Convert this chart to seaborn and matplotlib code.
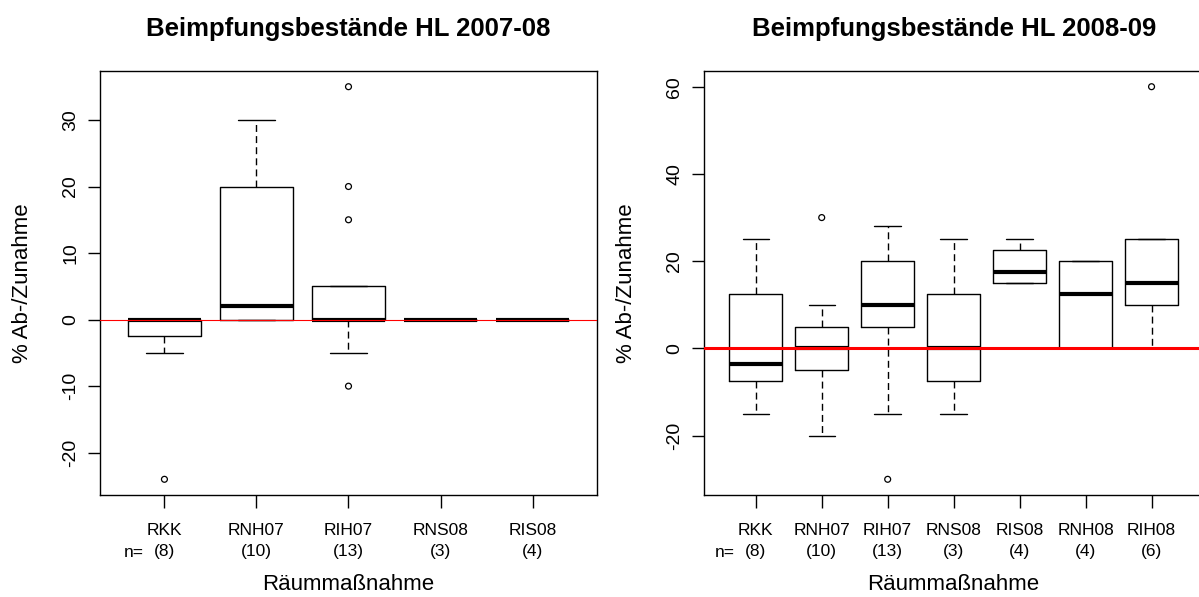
import numpy as np
import pandas as pd
import matplotlib
matplotlib.use("Agg")
import matplotlib.pyplot as plt
import matplotlib.transforms as mtransforms
import seaborn as sns

# ---- data: box statistics per removal measure (percent change) ----
names_0708 = ["RKK", "RNH07", "RIH07", "RNS08", "RIS08"]
n_0708 = [8, 10, 13, 3, 4]
whislo_0708 = [-5, 0, -5, 0, 0]
q1_0708 = [-2.5, 0, 0, 0, 0]
med_0708 = [0, 2, 0, 0, 0]
q3_0708 = [0, 20, 5, 0, 0]
whishi_0708 = [0, 30, 5, 0, 0]
outliers_0708 = [[-24], [], [35, 20, 15, -10], [], []]

names_0809 = ["RKK", "RNH07", "RIH07", "RNS08", "RIS08", "RNH08", "RIH08"]
n_0809 = [8, 10, 13, 3, 4, 4, 6]
whislo_0809 = [-15, -20, -15, -15, 15, 0, 0]
q1_0809 = [-7.5, -5, 5, -7.5, 15, 0, 10]
med_0809 = [-3.5, 0, 10, 0, 17.5, 12.5, 15]
q3_0809 = [12.5, 5, 20, 12.5, 22.5, 20, 25]
whishi_0809 = [25, 10, 28, 25, 25, 20, 25]
outliers_0809 = [[], [30], [-30], [], [], [], [60]]

yticks_0708 = [-20, -10, 0, 10, 20, 30]
yticks_0809 = [-20, 0, 20, 40, 60]

sns.set_theme(style="ticks")
plt.rcParams["font.family"] = ["Liberation Sans", "DejaVu Sans"]
plt.rcParams["axes.edgecolor"] = "black"
plt.rcParams["axes.linewidth"] = 1.0
plt.rcParams["xtick.color"] = "black"
plt.rcParams["ytick.color"] = "black"
plt.rcParams["text.color"] = "black"
plt.rcParams["axes.labelcolor"] = "black"

W, H = 1199, 597
fig = plt.figure(figsize=(W / 100, H / 100), dpi=100)
fig.patch.set_facecolor("white")
ax_a = fig.add_axes([100 / W, 1 - 495 / H, 497 / W, 424 / H])
ax_b = fig.add_axes([704.3 / W, 1 - 495 / H, 498.7 / W, 424 / H])


def draw_panel(ax, title, names, counts, lo, q1, med, q3, hi, outs, yticks, zero_lw):
    k = len(names)
    pos = np.arange(1, k + 1)
    stats = [
        dict(whislo=lo[i], q1=q1[i], med=med[i], q3=q3[i], whishi=hi[i], fliers=[])
        for i in range(k)
    ]
    ax.bxp(
        stats, positions=pos, widths=0.8, capwidths=0.4, showfliers=False,
        manage_ticks=False,
        boxprops=dict(color="black", lw=1.0),
        medianprops=dict(color="black", lw=3.0, solid_capstyle="butt"),
        whiskerprops=dict(color="black", lw=1.0, linestyle=(0, (5, 3))),
        capprops=dict(color="black", lw=1.0),
    )

    # outlying observations as open circles
    flier_df = pd.DataFrame(
        [(pos[i], v) for i in range(k) for v in outs[i]], columns=["pos", "value"]
    )
    sns.scatterplot(
        data=flier_df, x="pos", y="value", ax=ax, marker="o", s=18,
        facecolor="none", edgecolor="black", linewidth=0.9, zorder=4, legend=False,
    )

    ax.axhline(0, color="red", lw=zero_lw, zorder=5)

    # axis ranges: data range widened by 4 % on each side
    allvals = list(lo) + list(hi) + [v for o in outs for v in o]
    vmin, vmax = min(allvals), max(allvals)
    span = vmax - vmin
    ax.set_ylim(vmin - 0.04 * span, vmax + 0.04 * span)
    ax.set_xlim(0.5 - 0.04 * k, k + 0.5 + 0.04 * k)

    ax.set_yticks(yticks)
    ax.set_yticklabels([str(t) for t in yticks], fontsize=14)
    ax.set_xticks(pos)
    ax.set_xticklabels([f"{nm}\n({c})" for nm, c in zip(names, counts)],
                       fontsize=12.5, linespacing=1.5)
    ax.tick_params(axis="both", length=9, width=1, direction="out", color="black")
    ax.tick_params(axis="x", pad=11)
    ax.tick_params(axis="y", pad=6, labelrotation=90)
    for lbl in ax.get_yticklabels():
        lbl.set_va("center")

    ax.set_xlabel("Räummaßnahme", fontsize=16, labelpad=11)
    ax.set_ylabel("% Ab-/Zunahme", fontsize=16, labelpad=21)
    ax.set_title(title, fontsize=18.5, fontweight="bold", pad=25)

    trans = mtransforms.blended_transform_factory(ax.transData, ax.transAxes)
    ax.annotate("n=", xy=(pos[0], 0), xycoords=trans, xytext=(-22, -41.5),
                textcoords="offset points", ha="center", va="center", fontsize=12.5)

    for sp in ax.spines.values():
        sp.set_visible(True)
        sp.set_color("black")
        sp.set_linewidth(1.0)


draw_panel(ax_a, "Beimpfungsbestände HL 2007-08", names_0708, n_0708, whislo_0708,
           q1_0708, med_0708, q3_0708, whishi_0708, outliers_0708, yticks_0708, 0.8)
draw_panel(ax_b, "Beimpfungsbestände HL 2008-09", names_0809, n_0809, whislo_0809,
           q1_0809, med_0809, q3_0809, whishi_0809, outliers_0809, yticks_0809, 2.2)

fig.savefig("out.png", dpi=100, facecolor="white")
